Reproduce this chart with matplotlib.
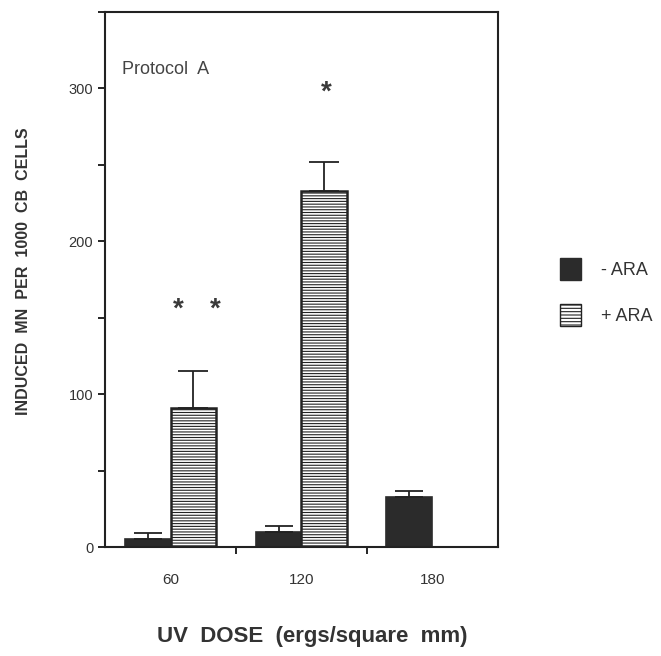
import numpy as np
import matplotlib
matplotlib.use("Agg")
import matplotlib.pyplot as plt
from matplotlib.patches import Patch

plt.rcParams['font.family'] = ['Liberation Sans', 'DejaVu Sans']
plt.rcParams['hatch.linewidth'] = 0.8

doses = ['60', '120', '180']
minus_ara = [5, 10, 33]
minus_err = [4, 4, 4]
plus_ara = [91, 233, np.nan]
plus_err = [24, 19, np.nan]

fig = plt.figure(figsize=(6.61, 6.56), dpi=100)
ax = fig.add_axes([0.159, 0.166, 0.594, 0.816])

x = np.arange(len(doses))
w = 0.35
dark = '#2b2b2b'

ax.bar(x - w / 2, minus_ara, w, color=dark, edgecolor=dark, linewidth=1.2,
       yerr=[[0] * 3, minus_err], capsize=10,
       error_kw=dict(ecolor='#222222', elinewidth=1.3, capthick=1.3))
ax.bar(x + w / 2, plus_ara, w, color='white', edgecolor='#222222',
       linewidth=1.8, hatch='------',
       yerr=[[0] * 3, plus_err], capsize=11,
       error_kw=dict(ecolor='#222222', elinewidth=1.3, capthick=1.3))

# significance marks
star = dict(ha='center', va='center', fontsize=20, fontweight='bold', color='#3a3a3a')
ax.text(x[0] + 0.06, 155, '*', **star)
ax.text(x[0] + 0.34, 155, '*', **star)
ax.text(x[1] + 0.19, 297, '*', **star)

ax.text(-0.37, 312, 'Protocol  A', ha='left', va='center', fontsize=13, color='#444444')

ax.set_xlim(-0.5, 2.5)
ax.set_ylim(0, 350)
ax.set_yticks([0, 100, 200, 300])
ax.set_yticks([50, 150, 250, 350], minor=True)
ax.set_xticks(x)
ax.set_xticklabels(doses)
ax.set_xticks([0.5, 1.5], minor=True)
ax.tick_params(axis='x', which='major', length=0, pad=19, labelsize=11, labelcolor='#333333')
ax.tick_params(axis='x', which='minor', length=5, width=1.2, direction='out')
ax.tick_params(axis='y', which='both', length=5, width=1.2, direction='out',
               labelsize=10.5, labelcolor='#333333')
for s in ax.spines.values():
    s.set_linewidth(1.5)
    s.set_color('#222222')

fig.text(0.035, 0.587, 'INDUCED  MN  PER  1000  CB  CELLS', rotation=90, ha='center', va='center',
         fontsize=11.5, fontweight='bold', color='#333333')
fig.text(0.472, 0.029, 'UV  DOSE  (ergs/square  mm)', ha='center', va='center',
         fontsize=16, fontweight='bold', color='#333333')

handles = [Patch(facecolor=dark, edgecolor=dark, label='- ARA'),
           Patch(facecolor='white', edgecolor='#222222', hatch='-----', label='+ ARA')]
fig.legend(handles=handles, loc='center left', bbox_to_anchor=(0.822, 0.555),
           frameon=False, fontsize=13, handlelength=1.2, handleheight=1.5,
           labelspacing=1.3, handletextpad=1.1, labelcolor='#333333')

fig.savefig('out.png', dpi=100)
